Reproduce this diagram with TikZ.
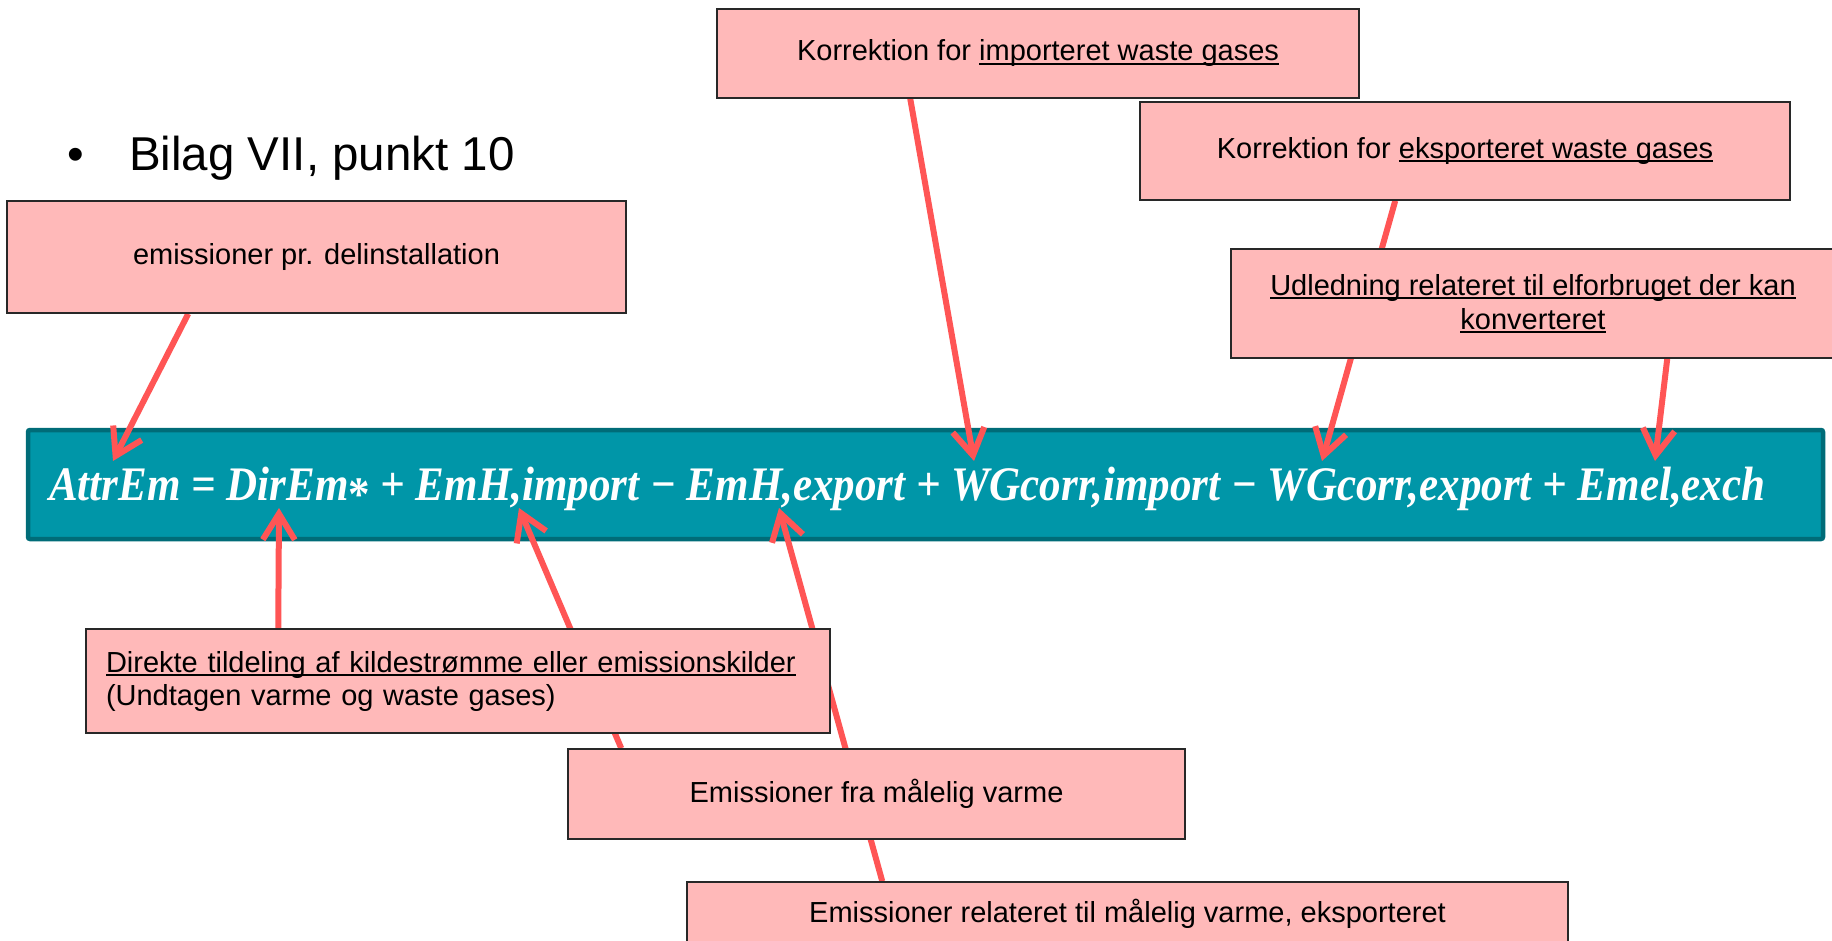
\documentclass[tikz,border=0pt]{standalone}
\usepackage{fontspec}
\usepackage{graphicx}
\setmainfont{Liberation Sans}
\newfontfamily\eqfont{Liberation Serif}
\usetikzlibrary{arrows.meta}

\pgfdeclarelayer{barlayer}
\pgfdeclarelayer{arrowlayer}
\pgfsetlayers{barlayer,arrowlayer,main}

\definecolor{boxpink}{RGB}{255,185,185}
\definecolor{boxline}{RGB}{40,40,40}
\definecolor{arrowred}{RGB}{255,85,85}
\definecolor{barfill}{RGB}{0,150,168}
\definecolor{barline}{RGB}{0,108,120}

% underline drawn as a rule under the text box
\newcommand\ulx[1]{\setbox0=\hbox{#1}\rlap{\rule[-4pt]{\wd0}{2pt}}\box0}

\begin{document}
\begin{tikzpicture}[x=1pt,y=-1pt,
  note/.style={draw=boxline, line width=1.5pt, fill=boxpink, inner sep=0pt,
    align=center, font=\fontsize{29}{34}\selectfont},
  callout/.style={draw=arrowred, line width=6pt,
    -{Straight Barb[length=26pt,width=32pt]}},
]
\useasboundingbox (0,0) rectangle (1832,941);
\clip (0,0) rectangle (1832,941);

% heading bullet
\node[anchor=base, inner sep=0pt, font=\fontsize{47.5}{56}\selectfont] (dot) at (76,171) {•};
\node[anchor=base west, inner sep=0pt, font=\fontsize{47.5}{56}\selectfont] (title) at (129,171) {Bilag VII, punkt 10};

% formula bar
\begin{pgfonlayer}{barlayer}
\node[draw=barline, fill=barfill, line width=4.5pt, rounded corners=2pt,
      minimum width=1795pt, minimum height=109pt, inner sep=0pt] (bar) at (925.5,484.5) {};
\node[anchor=base west, inner sep=0pt, text=white,
      font=\eqfont\bfseries\itshape\fontsize{43}{50}\selectfont] (eq) at (49,500)
  {\scalebox{1}[1.12]{AttrEm = DirEm{\upshape\raisebox{-0.22em}{*}} + EmH,import − EmH,export + WGcorr,import − WGcorr,export + Emel,exch}};
\end{pgfonlayer}

% explanation boxes
\node[note, minimum width=619pt, minimum height=112pt] (boxA) at (316.5,257) {emissioner pr. delinstallation};
\node[note, minimum width=642pt, minimum height=89pt] (boxB) at (1038,53.5) {Korrektion for \ulx{importeret waste gases}};
\node[note, minimum width=650pt, minimum height=98pt] (boxC) at (1465,151) {Korrektion for \ulx{eksporteret waste gases}};
\node[note, minimum width=604pt, minimum height=109pt] (boxD) at (1533,303.5)
  {\ulx{Udledning relateret til elforbruget der kan}\\\ulx{konverteret}};
\node[note, align=left, text width=704pt, inner xsep=20pt, minimum height=104pt,
      font=\fontsize{29}{33}\selectfont] (boxE) at (458,681)
  {\ulx{Direkte tildeling af kildestrømme eller emissionskilder}\\(Undtagen varme og waste gases)};
\node[note, minimum width=617pt, minimum height=90pt] (boxF) at (876.5,794) {Emissioner fra målelig varme};
\node[note, minimum width=881pt, minimum height=64pt] (boxG) at (1127.5,914) {Emissioner relateret til målelig varme, eksporteret};

% arrow ends
\coordinate (sA) at ([xshift=182pt]boxA.south west);
\coordinate (sB) at ([xshift=194pt]boxB.south west);
\coordinate (sC) at ([xshift=256pt]boxC.south west);
\coordinate (sD) at ([xshift=437pt]boxD.south west);
\coordinate (sE) at ([xshift=193pt]boxE.north west);
\coordinate (sF) at ([xshift=54pt]boxF.north west);
\coordinate (sG) at ([xshift=196pt]boxG.north west);
\coordinate (tA) at (113,461);
\coordinate (tB) at (974,461);
\coordinate (tC) at (1322,461);
\coordinate (tD) at (1655,461);
\coordinate (tE) at (279,508);
\coordinate (tF) at (519,508);
\coordinate (tG) at (779,508);

\begin{pgfonlayer}{arrowlayer}
\draw[callout] (sA) -- (tA);
\draw[callout] (sB) -- (tB);
\draw[callout] (sC) -- (tC);
\draw[callout] (sD) -- (tD);
\draw[callout] (sE) -- (tE);
\draw[callout] (sF) -- (tF);
\draw[callout] (sG) -- (tG);
\end{pgfonlayer}
\end{tikzpicture}
\end{document}
